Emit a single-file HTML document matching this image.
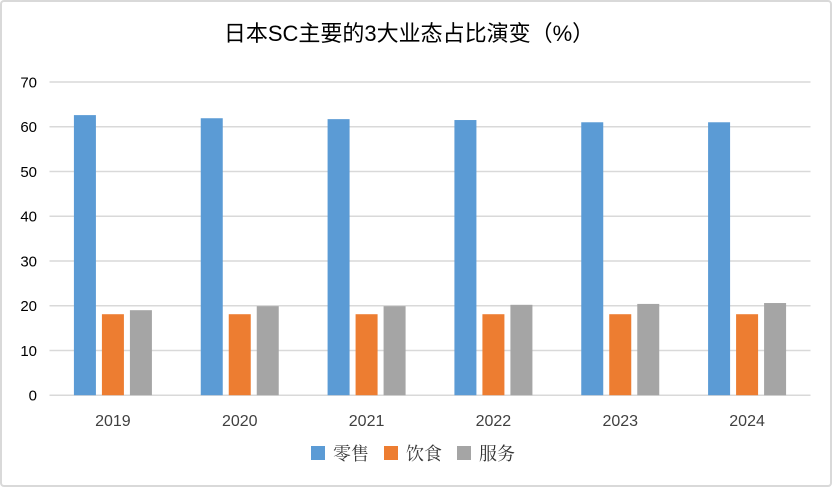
<!DOCTYPE html>
<html><head><meta charset="utf-8"><style>
html,body{margin:0;padding:0;background:#fff;}
svg{display:block;}
</style></head><body>
<svg id="chart" width="834" height="488" xmlns="http://www.w3.org/2000/svg">
<rect x="1" y="1" width="830" height="485" rx="3" fill="#fff" stroke="#d9d9d9" stroke-width="2"/>
<text x="409" y="41" text-anchor="middle" font-family="Liberation Sans, Noto Sans CJK SC, sans-serif" font-size="22" fill="#000">日本SC主要的3大业态占比演变（%）</text>
<g id="grid"></g>
<g id="bars"></g>
<g id="labels"></g>
<g>
<rect x="311" y="446" width="14" height="14" fill="#5b9bd5"/>
<text x="333" y="460" font-family="Noto Serif CJK SC, serif" font-size="18" fill="#333">零售</text>
<rect x="384" y="446" width="14" height="14" fill="#ed7d31"/>
<text x="406" y="460" font-family="Noto Serif CJK SC, serif" font-size="18" fill="#333">饮食</text>
<rect x="457" y="446" width="14" height="14" fill="#a5a5a5"/>
<text x="479" y="460" font-family="Noto Serif CJK SC, serif" font-size="18" fill="#333">服务</text>
</g>
</svg>
<script>
const categories = ["2019","2020","2021","2022","2023","2024"];
const retail = [62.6, 61.9, 61.7, 61.5, 61.0, 61.0];
const food = [18.1, 18.1, 18.1, 18.1, 18.1, 18.1];
const service = [19.0, 19.9, 19.9, 20.2, 20.4, 20.6];
const yTicks = [0,10,20,30,40,50,60,70];

const NS = "http://www.w3.org/2000/svg";
const left = 49.5, right = 810.5, y0 = 395.2, yTop = 82.0, yMax = 70;
const band = (right - left) / categories.length;
function yScale(v){ return y0 - (v / yMax) * (y0 - yTop); }
function xBand(i){ return left + i * band; }
function mk(tag, attrs){ const e = document.createElementNS(NS, tag); for (const k in attrs) e.setAttribute(k, attrs[k]); return e; }

const grid = document.getElementById('grid');
yTicks.forEach(t => {
  const y = yScale(t);
  const l = mk('line', {x1:left, x2:right, y1:y, y2:y, stroke:'#d9d9d9', 'stroke-width':1.5});
  
  
  grid.appendChild(l);
  const tx = mk('text', {x:37, y:y+5.5, 'text-anchor':'end', 'font-family':'Liberation Sans, sans-serif', 'font-size':15, fill:'#000'});
  tx.textContent = t;
  
  
  grid.appendChild(tx);
});

const series = [[retail,'#5b9bd5','retail'],[food,'#ed7d31','food'],[service,'#a5a5a5','service']];
const bw = 22, gap = 6;
const bars = document.getElementById('bars');
const labels = document.getElementById('labels');
categories.forEach((c, i) => {
  const center = xBand(i) + band / 2;
  const gw = 3 * bw + 2 * gap;
  series.forEach((s, j) => {
    const v = s[0][i];
    const x = center - gw / 2 + j * (bw + gap);
    const r = mk('rect', {x:x, y:yScale(v), width:bw, height:y0 - yScale(v), fill:s[1]});
    
    
    bars.appendChild(r);
  });
  const t = mk('text', {x:center, y:426, 'text-anchor':'middle', 'font-family':'Liberation Sans, sans-serif', 'font-size':16, fill:'#404040'});
  t.textContent = c;
  
  
  labels.appendChild(t);
});
</script>
</body></html>
